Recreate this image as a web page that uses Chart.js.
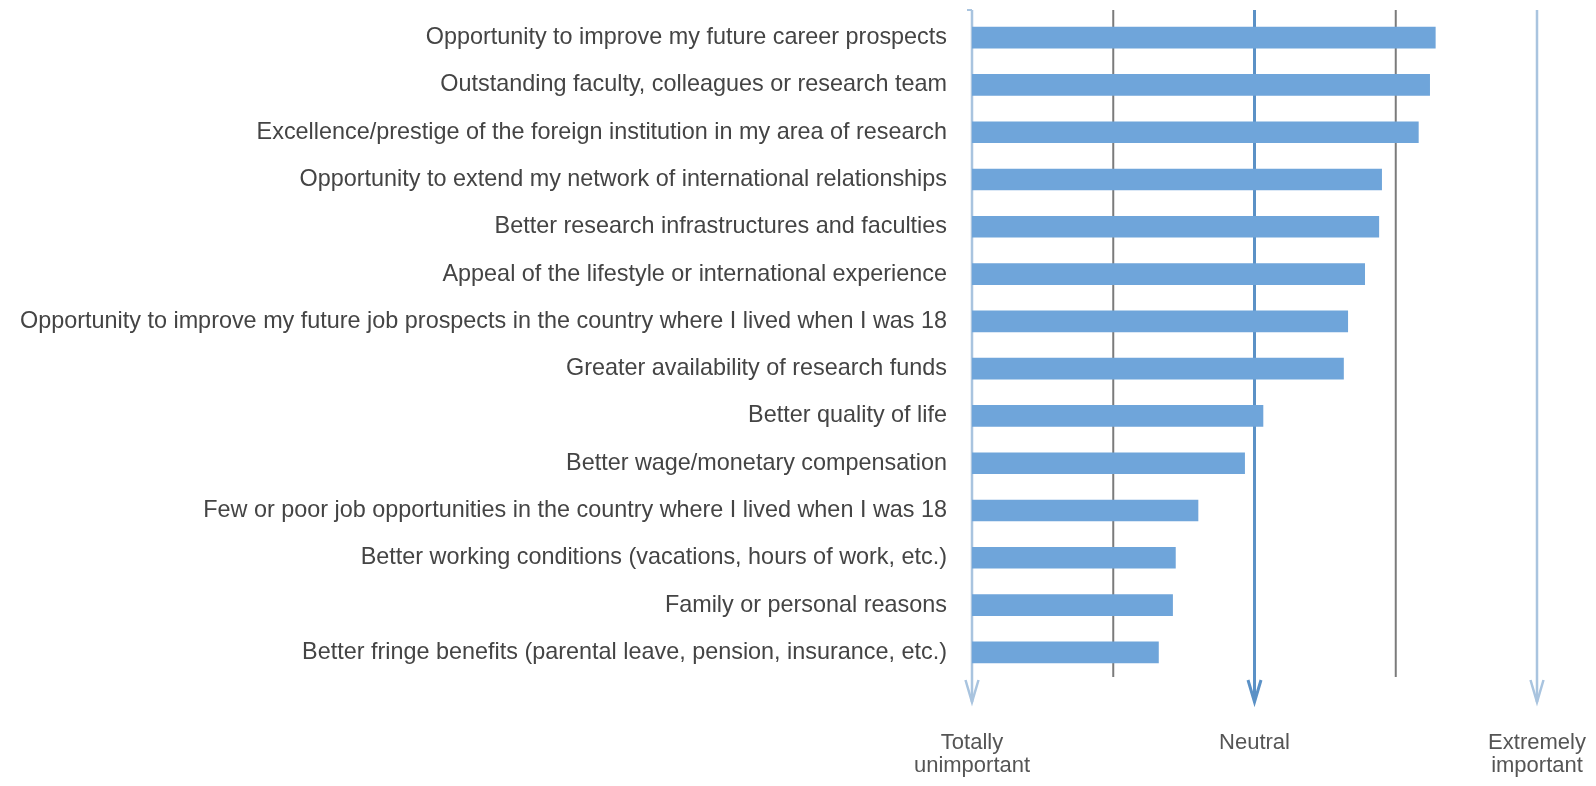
<!DOCTYPE html>
<html lang="en">
<head>
  <meta charset="UTF-8" />
  <title>Reasons for moving abroad</title>
  <style>
    html, body { margin: 0; padding: 0; background: #ffffff; }
    .wrap { width: 1596px; height: 786px; }
  </style>
</head>
<body>
  <div class="wrap">
    <canvas id="motivos" width="1596" height="786"></canvas>
  </div>

  <script src="https://cdn.jsdelivr.net/npm/chart.js"></script>
  <script>
    const categories = [
      'Opportunity to improve my future career prospects',
      'Outstanding faculty, colleagues or research team',
      'Excellence/prestige of the foreign institution in my area of research',
      'Opportunity to extend my network of international relationships',
      'Better research infrastructures and faculties',
      'Appeal of the lifestyle or international experience',
      'Opportunity to improve my future job prospects in the country where I lived when I was 18',
      'Greater availability of research funds',
      'Better quality of life',
      'Better wage/monetary compensation',
      'Few or poor job opportunities in the country where I lived when I was 18',
      'Better working conditions (vacations, hours of work, etc.)',
      'Family or personal reasons',
      'Better fringe benefits (parental leave, pension, insurance, etc.)'
    ];
    const scores = [4.28, 4.24, 4.16, 3.90, 3.88, 3.78, 3.66, 3.63, 3.06, 2.93, 2.60, 2.44, 2.42, 2.32];

    // scale points 1..5, only three of them are named
    const scalePoints = [1, 2, 3, 4, 5];
    const scaleNames = [['Totally', 'unimportant'], '', 'Neutral', '', ['Extremely', 'important']];

    // how each vertical guide looks (per scale point)
    const guides = [
      { color: '#a9c4df', width: 2.5, arrow: true },
      { color: '#7b7b7b', width: 2, arrow: false },
      { color: '#5b91c6', width: 3, arrow: true },
      { color: '#7b7b7b', width: 2, arrow: false },
      { color: '#a9c4df', width: 2.5, arrow: true }
    ];

    const guiasPlugin = {
      id: 'guias',
      beforeDatasetsDraw(chart) {
        const { ctx, chartArea, scales } = chart;
        const top = chartArea.top - 4;
        const bottom = chartArea.bottom + 1;
        ctx.save();
        scalePoints.forEach((p, i) => {
          const g = guides[i];
          const x = scales.x.getPixelForValue(p);
          const end = g.arrow ? bottom + 25 : bottom;
          ctx.strokeStyle = g.color;
          ctx.lineWidth = g.width;
          ctx.beginPath();
          ctx.moveTo(x, top);
          ctx.lineTo(x, end);
          ctx.stroke();
          if (g.arrow) {
            ctx.beginPath();
            ctx.moveTo(x - 6.5, end - 22);
            ctx.lineTo(x, end);
            ctx.lineTo(x + 6.5, end - 22);
            ctx.stroke();
          }
        });
        // small hook at the top of the first axis
        const x0 = scales.x.getPixelForValue(scalePoints[0]);
        ctx.strokeStyle = guides[0].color;
        ctx.lineWidth = 2;
        ctx.beginPath();
        ctx.moveTo(x0 - 5, top);
        ctx.lineTo(x0, top);
        ctx.stroke();
        ctx.restore();
      }
    };

    const ctx = document.getElementById('motivos').getContext('2d');

    new Chart(ctx, {
      type: 'bar',
      data: {
        labels: categories,
        datasets: [{
          data: scores,
          base: 1,
          backgroundColor: '#6fa5da',
          borderWidth: 0,
          barThickness: 21
        }]
      },
      options: {
        indexAxis: 'y',
        responsive: false,
        animation: false,
        layout: { padding: { top: 14, right: 59, left: 0, bottom: 0 } },
        scales: {
          x: {
            min: 1,
            max: 5,
            grid: { display: false, drawTicks: false },
            border: { display: false },
            afterFit: (scale) => {
              scale.height = 110;
              scale.paddingLeft = 0;
              scale.paddingRight = 0;
            },
            ticks: {
              stepSize: 1,
              autoSkip: false,
              maxRotation: 0,
              padding: 56,
              color: '#555555',
              font: { family: 'Liberation Sans', size: 22, lineHeight: 1.02 },
              callback: (v) => {
                const i = scalePoints.indexOf(v);
                return i >= 0 ? scaleNames[i] : '';
              }
            }
          },
          y: {
            grid: { display: false, drawTicks: false },
            border: { display: false },
            afterFit: (scale) => {
              scale.width = 972;
              scale.paddingTop = 0;
              scale.paddingBottom = 0;
            },
            ticks: {
              padding: 25,
              autoSkip: false,
              color: '#444444',
              font: { family: 'Liberation Sans', size: 23.4 }
            }
          }
        },
        plugins: {
          legend: { display: false },
          tooltip: { enabled: false }
        }
      },
      plugins: [guiasPlugin]
    });
  </script>
</body>
</html>
